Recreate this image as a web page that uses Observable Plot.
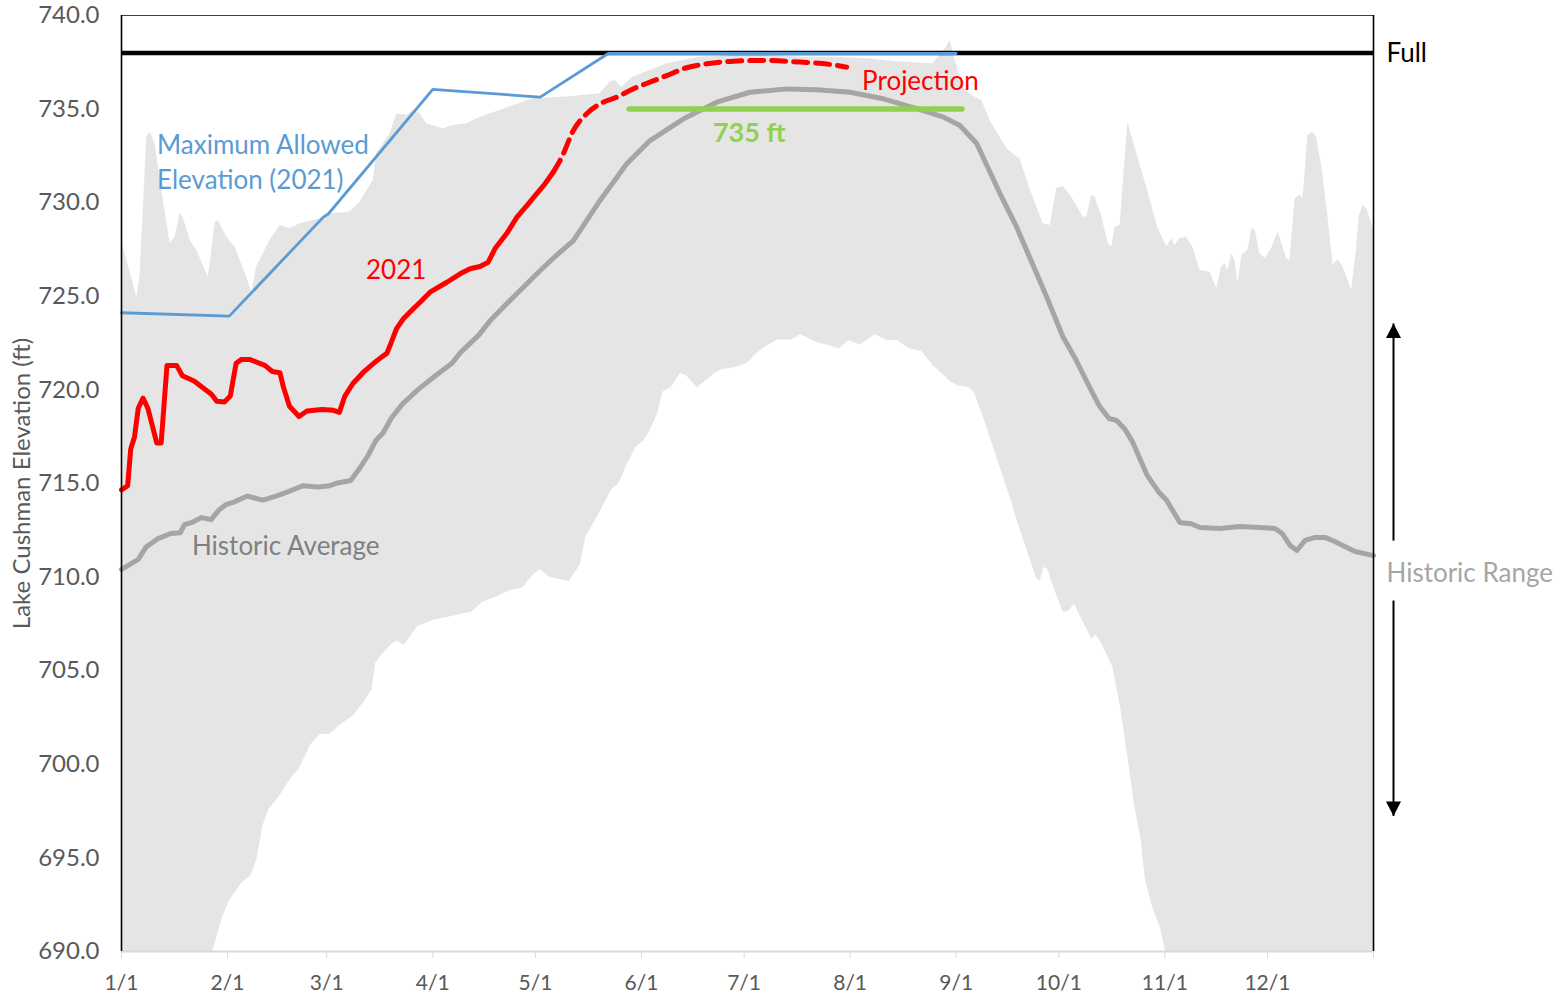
<!DOCTYPE html>
<html><head><meta charset="utf-8">
<script src="https://cdn.jsdelivr.net/npm/d3@7"></script>
<script src="https://cdn.jsdelivr.net/npm/@observablehq/plot@0.6"></script>
<style>body{margin:0;background:#fff;} svg{display:block}</style>
</head><body><div id="chart"></div>
<script>
// x = day of year (leap year, 0 = Jan 1), y = elevation (ft)
const monthTicks = [0,31,60,91,121,152,182,213,244,274,305,335,366];
const monthLabels = ["1/1","2/1","3/1","4/1","5/1","6/1","7/1","8/1","9/1","10/1","11/1","12/1",""];
const yTicks = [690,695,700,705,710,715,720,725,730,735,740];

const elevation2021 = [[0,714.66],[1.8,714.88],[2.7,716.84],[3.8,717.49],[4.9,719.02],[6.3,719.56],[7.7,719.02],[10.3,717.17],[11.6,717.17],[13.3,721.31],[16.1,721.31],[17.8,720.76],[21.2,720.48],[26.2,719.78],[27.9,719.39],[30.1,719.35],[31.8,719.67],[33.5,721.42],[35.1,721.63],[37.4,721.63],[41.9,721.31],[44.1,720.98],[46.3,720.92],[47.4,720.11],[49.1,719.13],[51.9,718.58],[54.2,718.87],[58.6,718.95],[62.0,718.91],[63.7,718.80],[65.3,719.67],[67.6,720.33],[70.9,720.98],[73.7,721.42],[76.0,721.75],[77.6,721.96],[78.8,722.51],[80.4,723.27],[82.4,723.80],[85.3,724.33],[87.3,724.68],[90.2,725.22],[95.1,725.75],[99.0,726.20],[101.9,726.47],[104.8,726.59],[107.2,726.82],[109.2,727.55],[112.6,728.35],[115.6,729.23],[118.5,729.85],[121.4,730.48],[123.8,731.01],[126.2,731.63]];

const projection2021 = [[126.2,731.63],[128.7,732.43],[132.1,733.86],[136.0,734.75],[139.9,735.28],[144.8,735.64],[149.6,736.08],[154.5,736.44],[159.4,736.79],[165.2,737.21],[171.1,737.42],[178.9,737.56],[188.6,737.60],[198.4,737.51],[204.2,737.45],[212.0,737.24]];

const historicAverage = [[0,710.41],[4.9,710.95],[7.2,711.61],[10.5,712.04],[14.4,712.33],[17.2,712.37],[18.4,712.80],[20.6,712.92],[23.4,713.18],[26.2,713.07],[28.4,713.57],[30.7,713.89],[32.9,714.01],[36.8,714.33],[41.3,714.11],[45.2,714.33],[48.6,714.55],[53.0,714.88],[57.5,714.81],[60.9,714.88],[63.1,715.03],[67.0,715.16],[69.8,715.86],[72.1,716.51],[74.3,717.28],[76.5,717.71],[78.8,718.47],[82.1,719.24],[86.6,720.00],[91.1,720.66],[96.6,721.42],[98.9,721.96],[104.5,722.94],[107.8,723.71],[112.1,724.51],[116.5,725.31],[122.4,726.38],[126.8,727.13],[132.1,727.98],[139.9,730.12],[147.7,732.08],[154.5,733.32],[164.3,734.48],[174.0,735.37],[183.7,735.90],[194.5,736.08],[203.2,736.03],[213.0,735.90],[222.7,735.55],[232.5,735.02],[240.3,734.57],[245.1,734.12],[250.0,733.16],[256.8,730.49],[261.7,728.69],[270.5,724.95],[275.2,722.84],[278.6,721.75],[283.1,720.11],[285.9,719.13],[288.7,718.47],[290.9,718.37],[293.2,717.93],[295.4,717.28],[299.9,715.42],[303.2,714.55],[305.5,714.11],[309.4,712.92],[312.7,712.85],[315.3,712.65],[321.1,712.60],[326.9,712.70],[332.8,712.65],[337.2,712.60],[339.3,712.33],[341.6,711.69],[343.6,711.42],[346.0,711.96],[348.9,712.12],[351.8,712.12],[354.7,711.90],[357.6,711.63],[360.6,711.37],[366,711.15]];

const historicMax = [[0,727.98],[4.5,724.95],[5.4,726.02],[7.4,733.50],[8.4,733.77],[9.8,733.16],[11.8,730.65],[14.2,727.82],[15.7,728.16],[17.1,729.42],[18.0,729.23],[20.1,727.98],[22.0,727.45],[25.4,726.02],[27.4,728.96],[28.3,729.05],[30.8,728.16],[33.2,727.62],[36.6,726.02],[38.1,725.22],[39.5,726.55],[43.4,727.98],[46.4,728.78],[49.3,728.61],[52.2,728.87],[58.1,729.14],[61.0,729.41],[66.8,729.49],[69.7,730.03],[73.6,731.19],[74.6,732.61],[78.5,733.68],[80.5,734.75],[83.4,734.66],[85.3,734.93],[87.3,734.75],[89.2,734.21],[94.1,733.95],[97.0,734.12],[100.9,734.21],[103.9,734.48],[107.7,734.75],[110.7,734.93],[120.3,735.55],[130.2,735.64],[139.9,735.82],[142.8,736.44],[144.3,736.53],[146.2,736.17],[149.5,736.70],[154.5,737.06],[159.4,737.42],[169.1,737.77],[178.8,737.86],[188.6,737.86],[198.4,737.77],[208.0,737.77],[217.9,737.69],[227.6,737.51],[237.2,737.42],[241.2,738.31],[242.2,738.66],[243.7,737.60],[246.0,736.17],[248.6,735.73],[251.5,735.46],[253.9,734.39],[256.8,733.50],[258.8,732.90],[261.2,732.52],[262.7,732.36],[265.0,731.03],[267.6,729.76],[269.4,728.89],[271.5,728.78],[273.4,730.76],[275.3,730.87],[277.8,730.29],[281.1,729.23],[282.2,729.23],[283.6,730.38],[284.6,730.29],[286.6,729.23],[288.4,727.82],[289.5,727.62],[290.4,728.69],[291.9,728.78],[294.2,734.30],[296.8,732.63],[299.7,730.83],[303.0,728.62],[305.6,727.62],[307.0,728.09],[308.0,727.71],[309.4,728.09],[311.4,728.16],[313.2,727.62],[315.3,726.38],[318.2,726.29],[320.2,725.42],[321.6,726.55],[322.6,726.75],[323.5,726.38],[324.5,727.29],[325.5,726.91],[326.4,725.68],[327.5,727.18],[329.3,727.45],[330.4,728.62],[331.4,728.52],[332.8,727.29],[334.3,727.02],[336.2,727.55],[338.1,728.42],[339.2,727.82],[340.6,727.02],[341.6,726.91],[343.1,730.22],[344.5,730.38],[345.4,730.22],[346.8,733.59],[348.3,733.77],[349.4,733.50],[350.9,731.90],[352.7,729.23],[354.2,726.65],[355.6,726.97],[357.1,726.55],[359.6,725.31],[361.1,727.62],[361.8,729.23],[362.9,729.85],[364.0,729.69],[365.5,728.89],[366,728.62]];

const historicMin = [[26.7,690.0],[29.6,691.87],[31.7,692.75],[35.1,693.63],[37.9,694.06],[39.6,694.93],[41.3,696.68],[43.0,697.54],[46.3,698.31],[49.7,699.29],[51.9,699.72],[55.3,701.03],[58.1,701.59],[60.9,701.59],[64.2,702.13],[67.6,702.55],[70.9,703.32],[73.2,703.97],[74.3,705.39],[76.0,705.83],[78.8,706.37],[80.4,706.59],[82.7,706.37],[86.6,707.36],[91.1,707.68],[96.6,707.90],[102.3,708.12],[105.6,708.66],[109.0,708.88],[113.4,709.27],[117.4,709.43],[120.2,710.09],[122.4,710.41],[125.2,709.98],[128.0,709.87],[130.8,709.77],[134.1,710.63],[135.8,712.15],[139.2,713.24],[143.3,714.66],[145.5,715.00],[147.7,715.97],[150.5,716.95],[152.8,717.28],[154.5,717.82],[156.7,718.69],[158.3,719.89],[160.6,720.11],[163.4,720.88],[165.1,720.76],[168.4,720.11],[171.2,720.54],[173.5,720.88],[175.7,721.09],[179.6,721.20],[183.0,721.42],[185.8,721.96],[189.1,722.40],[191.9,722.66],[195.8,722.66],[198.6,722.94],[203.7,722.51],[207.0,722.36],[209.8,722.18],[212.6,722.62],[216.0,722.40],[220.4,722.94],[223.8,722.62],[226.6,722.66],[230.5,722.18],[233.9,722.07],[237.2,721.31],[240.6,720.76],[242.3,720.44],[244.5,720.22],[247.9,720.11],[249.5,719.78],[252.9,718.04],[257.9,715.31],[260.2,714.01],[261.8,713.02],[264.6,711.50],[267.4,709.97],[268.5,709.75],[269.7,710.52],[270.8,710.41],[273.0,709.21],[275.3,708.12],[276.9,708.18],[278.6,708.55],[280.9,707.68],[283.7,706.70],[284.8,706.92],[286.4,706.49],[289.8,705.18],[292.1,702.99],[294.3,700.27],[296.0,697.98],[298.2,695.80],[299.3,693.84],[301.5,692.31],[303.8,691.22],[305.2,690.0]];

const maxAllowed = [[0,724.12],[31.5,723.94],[59.0,729.23],[60.5,729.41],[91.0,736.05],[122.4,735.64],[142.3,737.97],[244,737.97]];
const fullPool = [738];
const target735 = [[148.4,735],[245.7,735]];

const startLabels = [
  {text: "Maximum Allowed\nElevation (2021)", day: 10.4, value: 732.25, color: "#5B9BD5"},
  {text: "Projection", day: 216.5, value: 736.6, color: "#FF0000"},
  {text: "Historic Average", day: 20.6, value: 711.79, color: "#808080"}
];
const middleLabels = [
  {text: "2021", day: 80.3, value: 726.38, color: "#FF0000"}
];
const boldLabels = [
  {text: "735 ft", day: 183.5, value: 733.7, color: "#92D050"}
];
const sideLabels = [
  {text: "Full", value: 737.97, color: "#000000"},
  {text: "Historic Range", value: 710.19, color: "#A6A6A6"}
];
const rangeArrows = [{from: 711.95, to: 723.55, dir: "up"}, {from: 708.75, to: 697.24, dir: "down"}];

const upHead = {draw(ctx){ ctx.moveTo(0,0); ctx.lineTo(-7.5,14.5); ctx.lineTo(7.5,14.5); ctx.closePath(); }};
const downHead = {draw(ctx){ ctx.moveTo(0,0); ctx.lineTo(-7.5,-14.5); ctx.lineTo(7.5,-14.5); ctx.closePath(); }};

const X = d => d[0], Y = d => d[1];
const fmtX = d => monthLabels[monthTicks.indexOf(d)];

const chart = Plot.plot({
  width: 1562, height: 996,
  marginLeft: 121, marginRight: 189, marginTop: 15, marginBottom: 45,
  style: {fontFamily: "Lato, sans-serif", fontSize: "21px", color: "#595959", background: "#fff"},
  x: {domain: [0, 366]},
  y: {domain: [690, 740]},
  marks: [
    Plot.areaY(historicMax, {x: X, y1: 690, y2: Y, fill: "#E5E5E5"}),
    Plot.areaY(historicMin, {x: X, y1: 690, y2: Y, fill: "#FFFFFF"}),
    Plot.ruleY(fullPool, {stroke: "#000", strokeWidth: 4.5}),
    Plot.line(historicAverage, {x: X, y: Y, stroke: "#A5A5A5", strokeWidth: 5, strokeLinejoin: "round"}),
    Plot.line(target735, {x: X, y: Y, stroke: "#92D050", strokeWidth: 5.5, strokeLinecap: "round"}),
    Plot.line(maxAllowed, {x: X, y: Y, stroke: "#5B9BD5", strokeWidth: 2.8}),
    Plot.line(elevation2021, {x: X, y: Y, stroke: "#FF0000", strokeWidth: 5, strokeLinejoin: "round"}),
    Plot.line(projection2021, {x: X, y: Y, stroke: "#FF0000", strokeWidth: 5, strokeDasharray: "14,8", curve: "monotone-x"}),
    Plot.ruleY([690], {stroke: "#D9D9D9", strokeWidth: 2}),
    Plot.ruleY([740], {stroke: "#404040", strokeWidth: 1.2}),
    Plot.ruleX([0, 366], {stroke: "#000", strokeWidth: 1.6}),
    Plot.axisX({ticks: monthTicks, tickFormat: fmtX, tickSize: 7, tickPadding: 17, stroke: "#D9D9D9", fill: "#595959", label: null}),
    Plot.axisY({ticks: yTicks, tickFormat: d3.format(".1f"), tickSize: 0, tickPadding: 22, fill: "#595959",
      label: "Lake Cushman Elevation (ft)", labelAnchor: "center", labelOffset: 109, fontSize: 24, labelArrow: "none"}),
    Plot.text(startLabels, {x: "day", y: "value", text: "text", fill: d => d.color, textAnchor: "start",
      fontSize: 26, lineHeight: 1.35, lineAnchor: "middle"}),
    Plot.text(middleLabels, {x: "day", y: "value", text: "text", fill: d => d.color, textAnchor: "middle",
      fontSize: 26, lineAnchor: "middle"}),
    Plot.text(boldLabels, {x: "day", y: "value", text: "text", fill: d => d.color, textAnchor: "middle",
      fontWeight: "bold", fontSize: 27, lineAnchor: "middle"}),
    Plot.text(sideLabels, {x: 366, y: "value", text: "text", fill: d => d.color, textAnchor: "start", dx: 13, fontSize: 26, lineAnchor: "middle"}),
    Plot.link(rangeArrows, {x1: 366, x2: 366, y1: "from", y2: "to", dx: 20, stroke: "#000", strokeWidth: 2}),
    Plot.dot(rangeArrows.filter(d => d.dir === "up"), {x: 366, y: "to", dx: 20, symbol: upHead, fill: "#000", stroke: "none", r: 5}),
    Plot.dot(rangeArrows.filter(d => d.dir === "down"), {x: 366, y: "to", dx: 20, symbol: downHead, fill: "#000", stroke: "none", r: 5})
  ]
});
document.getElementById("chart").appendChild(chart);
</script>
</body></html>
